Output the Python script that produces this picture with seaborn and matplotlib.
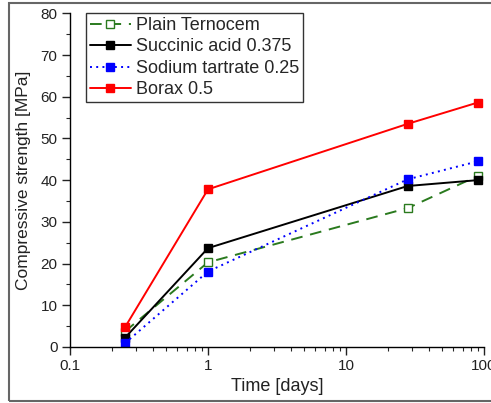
import numpy as np
import pandas as pd
import matplotlib
matplotlib.use("Agg")
import matplotlib.pyplot as plt
import seaborn as sns
from matplotlib.patches import Rectangle
from matplotlib.ticker import FixedLocator, NullFormatter

# curing time in days
days = [0.25, 1, 28, 90]

plain_ternocem = [3.7, 20.3, 33.3, 41.0]
succinic_acid = [2.2, 23.7, 38.6, 40.0]
sodium_tartrate = [0.9, 18.1, 40.2, 44.5]
borax = [4.7, 37.8, 53.5, 58.6]

labels = ["Plain Ternocem", "Succinic acid 0.375", "Sodium tartrate 0.25", "Borax 0.5"]

sns.set_style("ticks")
plt.rcParams['font.family'] = ['Liberation Sans', 'DejaVu Sans']

fig = plt.figure(figsize=(4.91, 4.03), dpi=100)
ax = fig.add_axes([70 / 491, 1 - 347 / 403, (484 - 70) / 491, (347 - 13.3) / 403])

styles = [
    (plain_ternocem, "#2a7a1e", (0, (6, 4)), "white"),
    (succinic_acid, "black", "-", "black"),
    (sodium_tartrate, "#0000ff", (0, (1, 2.2)), "#0000ff"),
    (borax, "#ff0000", "-", "#ff0000"),
]

for (vals, color, ls, mfc), lab in zip(styles, labels):
    df = pd.DataFrame({"Time": days, "Strength": vals})
    sns.lineplot(data=df, x="Time", y="Strength", ax=ax, color=color,
                 linestyle=ls, linewidth=1.4, marker="s", markersize=5.5,
                 markerfacecolor=mfc, markeredgecolor=color, markeredgewidth=1.0,
                 label=lab)

ax.set_xscale("log")
ax.set_xlim(0.1, 100)
ax.set_ylim(0, 80)
ax.set_yticks(np.arange(0, 81, 10))
ax.yaxis.set_minor_locator(FixedLocator(np.arange(5, 80, 10)))
ax.xaxis.set_minor_formatter(NullFormatter())
ax.set_xticks([0.1, 1, 10, 100])
ax.set_xticklabels(["0.1", "1", "10", "100"])

sns.despine(ax=ax)
for s in ["left", "bottom"]:
    ax.spines[s].set_linewidth(1.0)
    ax.spines[s].set_color("black")

ax.tick_params(which="major", direction="out", length=6, width=1.0, labelsize=11, colors="#222222", pad=3)
ax.tick_params(which="minor", direction="out", length=3, width=0.8)

ax.set_xlabel("Time [days]", fontsize=13, labelpad=3, color="#222222")
ax.set_ylabel("Compressive strength [MPa]", fontsize=12.5, labelpad=7, color="#222222")

leg = ax.legend(loc="upper left", bbox_to_anchor=(16 / 414, 1.0), fontsize=13,
                frameon=True, fancybox=False, handlelength=2.3, handletextpad=0.25,
                borderpad=0.2, labelspacing=0.25, borderaxespad=0.0)
leg.get_frame().set_edgecolor("black")
leg.get_frame().set_linewidth(1.0)

# outer frame of the original figure
fig.patches.append(Rectangle((9 / 491, 2 / 403), 1.2, 398 / 403, transform=fig.transFigure,
                             fill=False, edgecolor="#666666", linewidth=1.5))

fig.savefig("out.png", dpi=100)
